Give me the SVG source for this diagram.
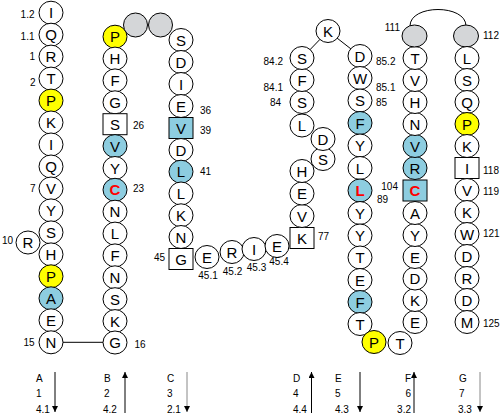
<svg xmlns="http://www.w3.org/2000/svg" width="500" height="420" viewBox="0 0 500 420">
<defs>
<style>
.o{fill:#fff;stroke:#000;stroke-width:1}
.y{fill:#ffff00;stroke:#000;stroke-width:1}
.b{fill:#8dcde0;stroke:#000;stroke-width:1}
.g{fill:#d4d6d8;stroke:#000;stroke-width:1}
text{font-family:"Liberation Sans",Arial,sans-serif}
.t{font-size:15px;text-anchor:middle;fill:#000}
.r{fill:#ff0000;font-weight:bold}
.n{font-size:10px;fill:#000}
.e{text-anchor:end}
.m{text-anchor:middle}
.ln{stroke:#000;stroke-width:1;fill:none}
.ab{stroke:#000;stroke-width:1;marker-end:url(#ah)}
.ag{stroke:#888;stroke-width:1;marker-end:url(#ah)}
</style>
<marker id="ah" markerUnits="userSpaceOnUse" markerWidth="7" markerHeight="7" refX="6" refY="3" orient="auto"><path d="M0,0 L6,3 L0,6 Z" fill="#000"/></marker>
</defs>
<rect width="500" height="420" fill="#fff"/>
<g id="connectors">
<line class="ln" x1="63" y1="342.3" x2="103" y2="342.3"/>
<line class="ln" x1="328" y1="31" x2="302" y2="58"/>
<line class="ln" x1="328" y1="31" x2="360" y2="56"/>
<path class="ln" d="M410,26 C410,4 466,4 466,26"/>
</g>
<g id="strandA">
<g id="A1"><ellipse class="o" cx="51" cy="12.7" rx="12" ry="11.5"/><text class="t" x="51" y="18.2">I</text></g>
<g id="A2"><ellipse class="o" cx="51" cy="34.7" rx="12" ry="11.5"/><text class="t" x="51" y="40.2">Q</text></g>
<g id="A3"><ellipse class="o" cx="51" cy="56.6" rx="12" ry="11.5"/><text class="t" x="51" y="62.1">R</text></g>
<g id="A4"><ellipse class="o" cx="51" cy="78.6" rx="12" ry="11.5"/><text class="t" x="51" y="84.1">T</text></g>
<g id="A5"><ellipse class="y" cx="51" cy="100.6" rx="12" ry="11.5"/><text class="t" x="51" y="106.1">P</text></g>
<g id="A6"><ellipse class="o" cx="51" cy="122.5" rx="12" ry="11.5"/><text class="t" x="51" y="128">K</text></g>
<g id="A7"><ellipse class="o" cx="51" cy="144.5" rx="12" ry="11.5"/><text class="t" x="51" y="150">I</text></g>
<g id="A8"><ellipse class="o" cx="51" cy="166.5" rx="12" ry="11.5"/><text class="t" x="51" y="172">Q</text></g>
<g id="A9"><ellipse class="o" cx="51" cy="188.5" rx="12" ry="11.5"/><text class="t" x="51" y="194">V</text></g>
<g id="A10"><ellipse class="o" cx="51" cy="210.4" rx="12" ry="11.5"/><text class="t" x="51" y="215.9">Y</text></g>
<g id="A11"><ellipse class="o" cx="51" cy="232.4" rx="12" ry="11.5"/><text class="t" x="51" y="237.9">S</text></g>
<g id="A12"><ellipse class="o" cx="51" cy="254.4" rx="12" ry="11.5"/><text class="t" x="51" y="259.9">H</text></g>
<g id="A13"><ellipse class="y" cx="51" cy="276.3" rx="12" ry="11.5"/><text class="t" x="51" y="281.8">P</text></g>
<g id="A14"><ellipse class="b" cx="51" cy="298.3" rx="12" ry="11.5"/><text class="t" x="51" y="303.8">A</text></g>
<g id="A15"><ellipse class="o" cx="51" cy="320.3" rx="12" ry="11.5"/><text class="t" x="51" y="325.8">E</text></g>
<g id="A16"><ellipse class="o" cx="51" cy="342.3" rx="12" ry="11.5"/><text class="t" x="51" y="347.8">N</text></g>
<g id="A10R"><ellipse class="o" cx="28" cy="242.5" rx="12" ry="11.5"/><text class="t" x="28" y="248">R</text></g>
</g>
<g id="strandB">
<g id="B1"><ellipse class="y" cx="115" cy="36.7" rx="12" ry="11.5"/><text class="t" x="115" y="42.2">P</text></g>
<g id="B2"><ellipse class="o" cx="115" cy="58.6" rx="12" ry="11.5"/><text class="t" x="115" y="64.1">H</text></g>
<g id="B3"><ellipse class="o" cx="115" cy="80.4" rx="12" ry="11.5"/><text class="t" x="115" y="85.9">F</text></g>
<g id="B4"><ellipse class="o" cx="115" cy="102.3" rx="12" ry="11.5"/><text class="t" x="115" y="107.8">G</text></g>
<g id="B5"><rect class="o" x="103" y="113.7" width="24" height="21"/><text class="t" x="115" y="129.7">S</text></g>
<g id="B6"><ellipse class="b" cx="115" cy="146.1" rx="12" ry="11.5"/><text class="t" x="115" y="151.6">V</text></g>
<g id="B7"><ellipse class="o" cx="115" cy="168" rx="12" ry="11.5"/><text class="t" x="115" y="173.5">Y</text></g>
<g id="B8"><ellipse class="b" cx="115" cy="189.8" rx="12" ry="11.5"/><text class="t r" x="115" y="195.3">C</text></g>
<g id="B9"><ellipse class="o" cx="115" cy="211.7" rx="12" ry="11.5"/><text class="t" x="115" y="217.2">N</text></g>
<g id="B10"><ellipse class="o" cx="115" cy="233.6" rx="12" ry="11.5"/><text class="t" x="115" y="239.1">L</text></g>
<g id="B11"><ellipse class="o" cx="115" cy="255.4" rx="12" ry="11.5"/><text class="t" x="115" y="260.9">F</text></g>
<g id="B12"><ellipse class="o" cx="115" cy="277.3" rx="12" ry="11.5"/><text class="t" x="115" y="282.8">N</text></g>
<g id="B13"><ellipse class="o" cx="115" cy="299.2" rx="12" ry="11.5"/><text class="t" x="115" y="304.7">S</text></g>
<g id="B14"><ellipse class="o" cx="115" cy="321.1" rx="12" ry="11.5"/><text class="t" x="115" y="326.6">K</text></g>
<g id="B15"><ellipse class="o" cx="115" cy="342.5" rx="12" ry="11.5"/><text class="t" x="115" y="348">G</text></g>
</g>
<g id="loopBC">
<g id="G1"><ellipse class="g" cx="135.5" cy="25" rx="12" ry="12"/></g>
<g id="G2"><ellipse class="g" cx="160.5" cy="25" rx="12" ry="12"/></g>
</g>
<g id="strandC">
<g id="C1"><ellipse class="o" cx="181" cy="40" rx="12" ry="11.5"/><text class="t" x="181" y="45.5">S</text></g>
<g id="C2"><ellipse class="o" cx="181" cy="62" rx="12" ry="11.5"/><text class="t" x="181" y="67.5">D</text></g>
<g id="C3"><ellipse class="o" cx="181" cy="84" rx="12" ry="11.5"/><text class="t" x="181" y="89.5">I</text></g>
<g id="C4"><ellipse class="o" cx="181" cy="106" rx="12" ry="11.5"/><text class="t" x="181" y="111.5">E</text></g>
<g id="C5"><rect class="b" x="169" y="117.5" width="24" height="21"/><text class="t" x="181" y="133.5">V</text></g>
<g id="C6"><ellipse class="o" cx="181" cy="150" rx="12" ry="11.5"/><text class="t" x="181" y="155.5">D</text></g>
<g id="C7"><ellipse class="b" cx="181" cy="171.7" rx="12" ry="11.5"/><text class="t" x="181" y="177.2">L</text></g>
<g id="C8"><ellipse class="o" cx="181" cy="193.5" rx="12" ry="11.5"/><text class="t" x="181" y="199">L</text></g>
<g id="C9"><ellipse class="o" cx="181" cy="215.3" rx="12" ry="11.5"/><text class="t" x="181" y="220.8">K</text></g>
<g id="C10"><ellipse class="o" cx="181" cy="237" rx="12" ry="11.5"/><text class="t" x="181" y="242.5">N</text></g>
<g id="C11"><rect class="o" x="169" y="248.5" width="24" height="21"/><text class="t" x="181" y="264.5">G</text></g>
</g>
<g id="loopCD">
<g id="CD1"><ellipse class="o" cx="207" cy="257" rx="12" ry="11.5"/><text class="t" x="207" y="262.5">E</text></g>
<g id="CD2"><ellipse class="o" cx="232" cy="252" rx="12" ry="11.5"/><text class="t" x="232" y="257.5">R</text></g>
<g id="CD3"><ellipse class="o" cx="254" cy="249" rx="12" ry="11.5"/><text class="t" x="254" y="254.5">I</text></g>
<g id="CD4"><ellipse class="o" cx="277" cy="246" rx="12" ry="11.5"/><text class="t" x="277" y="251.5">E</text></g>
</g>
<g id="strandD">
<g id="D1"><rect class="o" x="290" y="227.5" width="24" height="21"/><text class="t" x="302" y="243.5">K</text></g>
<g id="D2"><ellipse class="o" cx="302" cy="216" rx="12" ry="11.5"/><text class="t" x="302" y="221.5">V</text></g>
<g id="D3"><ellipse class="o" cx="302" cy="193.5" rx="12" ry="11.5"/><text class="t" x="302" y="199">E</text></g>
<g id="D4"><ellipse class="o" cx="302" cy="171" rx="12" ry="11.5"/><text class="t" x="302" y="176.5">H</text></g>
<g id="D5"><ellipse class="o" cx="323" cy="159" rx="12" ry="11.5"/><text class="t" x="323" y="164.5">S</text></g>
<g id="D6"><ellipse class="o" cx="323" cy="139" rx="12" ry="11.5"/><text class="t" x="323" y="144.5">D</text></g>
<g id="D7"><ellipse class="o" cx="302" cy="125.5" rx="12" ry="11.5"/><text class="t" x="302" y="131">L</text></g>
<g id="D8"><ellipse class="o" cx="302" cy="102" rx="12" ry="11.5"/><text class="t" x="302" y="107.5">S</text></g>
<g id="D9"><ellipse class="o" cx="302" cy="80" rx="12" ry="11.5"/><text class="t" x="302" y="85.5">F</text></g>
<g id="D10"><ellipse class="o" cx="302" cy="58" rx="12" ry="11.5"/><text class="t" x="302" y="63.5">S</text></g>
</g>
<g id="loopDE">
<g id="DE1"><ellipse class="o" cx="328" cy="31" rx="12" ry="11.5"/><text class="t" x="328" y="36.5">K</text></g>
</g>
<g id="strandE">
<g id="E1"><ellipse class="o" cx="360" cy="56" rx="12" ry="11.5"/><text class="t" x="360" y="61.5">D</text></g>
<g id="E2"><ellipse class="o" cx="360" cy="78" rx="12" ry="11.5"/><text class="t" x="360" y="83.5">W</text></g>
<g id="E3"><ellipse class="o" cx="360" cy="100.5" rx="12" ry="11.5"/><text class="t" x="360" y="106">S</text></g>
<g id="E4"><ellipse class="b" cx="360" cy="123" rx="12" ry="11.5"/><text class="t" x="360" y="128.5">F</text></g>
<g id="E5"><ellipse class="o" cx="360" cy="145.5" rx="12" ry="11.5"/><text class="t" x="360" y="151">Y</text></g>
<g id="E6"><ellipse class="o" cx="360" cy="168" rx="12" ry="11.5"/><text class="t" x="360" y="173.5">L</text></g>
<g id="E7"><ellipse class="b" cx="360" cy="190.5" rx="12" ry="11.5"/><text class="t r" x="360" y="196">L</text></g>
<g id="E8"><ellipse class="o" cx="360" cy="213" rx="12" ry="11.5"/><text class="t" x="360" y="218.5">Y</text></g>
<g id="E9"><ellipse class="o" cx="360" cy="235.5" rx="12" ry="11.5"/><text class="t" x="360" y="241">Y</text></g>
<g id="E10"><ellipse class="o" cx="360" cy="257.5" rx="12" ry="11.5"/><text class="t" x="360" y="263">T</text></g>
<g id="E11"><ellipse class="o" cx="360" cy="280" rx="12" ry="11.5"/><text class="t" x="360" y="285.5">E</text></g>
<g id="E12"><ellipse class="b" cx="360" cy="302" rx="12" ry="11.5"/><text class="t" x="360" y="307.5">F</text></g>
<g id="E13"><ellipse class="o" cx="360" cy="324" rx="12" ry="11.5"/><text class="t" x="360" y="329.5">T</text></g>
</g>
<g id="loopEF">
<g id="EF1"><ellipse class="y" cx="374" cy="342" rx="12" ry="11.5"/><text class="t" x="374" y="347.5">P</text></g>
<g id="EF2"><ellipse class="o" cx="400" cy="343" rx="12" ry="11.5"/><text class="t" x="400" y="348.5">T</text></g>
</g>
<g id="strandF">
<g id="F1"><ellipse class="o" cx="415" cy="322" rx="12" ry="11.5"/><text class="t" x="415" y="327.5">E</text></g>
<g id="F2"><ellipse class="o" cx="415" cy="300" rx="12" ry="11.5"/><text class="t" x="415" y="305.5">K</text></g>
<g id="F3"><ellipse class="o" cx="415" cy="278.5" rx="12" ry="11.5"/><text class="t" x="415" y="284">D</text></g>
<g id="F4"><ellipse class="o" cx="415" cy="257" rx="12" ry="11.5"/><text class="t" x="415" y="262.5">E</text></g>
<g id="F5"><ellipse class="o" cx="415" cy="235" rx="12" ry="11.5"/><text class="t" x="415" y="240.5">Y</text></g>
<g id="F6"><ellipse class="o" cx="415" cy="213" rx="12" ry="11.5"/><text class="t" x="415" y="218.5">A</text></g>
<g id="F7"><rect class="b" x="403" y="180" width="24" height="21"/><text class="t r" x="415" y="196">C</text></g>
<g id="F8"><ellipse class="b" cx="415" cy="168" rx="12" ry="11.5"/><text class="t" x="415" y="173.5">R</text></g>
<g id="F9"><ellipse class="b" cx="415" cy="146" rx="12" ry="11.5"/><text class="t" x="415" y="151.5">V</text></g>
<g id="F10"><ellipse class="o" cx="415" cy="124" rx="12" ry="11.5"/><text class="t" x="415" y="129.5">N</text></g>
<g id="F11"><ellipse class="o" cx="415" cy="102" rx="12" ry="11.5"/><text class="t" x="415" y="107.5">H</text></g>
<g id="F12"><ellipse class="o" cx="415" cy="80" rx="12" ry="11.5"/><text class="t" x="415" y="85.5">V</text></g>
<g id="F13"><ellipse class="o" cx="415" cy="58" rx="12" ry="11.5"/><text class="t" x="415" y="63.5">T</text></g>
<g id="F14"><ellipse class="g" cx="414.5" cy="36" rx="12.5" ry="11"/></g>
</g>
<g id="strandG">
<g id="G14"><ellipse class="g" cx="466" cy="36" rx="12.5" ry="11"/></g>
<g id="G13"><ellipse class="o" cx="467" cy="58" rx="12" ry="11.5"/><text class="t" x="467" y="63.5">L</text></g>
<g id="G12"><ellipse class="o" cx="467" cy="80" rx="12" ry="11.5"/><text class="t" x="467" y="85.5">S</text></g>
<g id="G11"><ellipse class="o" cx="467" cy="102" rx="12" ry="11.5"/><text class="t" x="467" y="107.5">Q</text></g>
<g id="G10"><ellipse class="y" cx="467" cy="124" rx="12" ry="11.5"/><text class="t" x="467" y="129.5">P</text></g>
<g id="G9"><ellipse class="o" cx="467" cy="146" rx="12" ry="11.5"/><text class="t" x="467" y="151.5">K</text></g>
<g id="G8"><rect class="o" x="455" y="157.5" width="24" height="21"/><text class="t" x="467" y="173.5">I</text></g>
<g id="G7"><ellipse class="o" cx="467" cy="190" rx="12" ry="11.5"/><text class="t" x="467" y="195.5">V</text></g>
<g id="G6"><ellipse class="o" cx="467" cy="212" rx="12" ry="11.5"/><text class="t" x="467" y="217.5">K</text></g>
<g id="G5"><ellipse class="o" cx="467" cy="234" rx="12" ry="11.5"/><text class="t" x="467" y="239.5">W</text></g>
<g id="G4"><ellipse class="o" cx="467" cy="256" rx="12" ry="11.5"/><text class="t" x="467" y="261.5">D</text></g>
<g id="G3"><ellipse class="o" cx="467" cy="278" rx="12" ry="11.5"/><text class="t" x="467" y="283.5">R</text></g>
<g id="G2r"><ellipse class="o" cx="467" cy="300" rx="12" ry="11.5"/><text class="t" x="467" y="305.5">D</text></g>
<g id="G1r"><ellipse class="o" cx="467" cy="322" rx="12" ry="11.5"/><text class="t" x="467" y="327.5">M</text></g>
</g>
<g id="numbers">
<text class="n e" x="34.5" y="17.5">1.2</text>
<text class="n e" x="34.5" y="39.5">1.1</text>
<text class="n e" x="35" y="59.5">1</text>
<text class="n e" x="35.5" y="86">2</text>
<text class="n e" x="35.5" y="192">7</text>
<text class="n" x="2" y="244">10</text>
<text class="n e" x="34.5" y="345.5">15</text>
<text class="n" x="133" y="128.5">26</text>
<text class="n" x="133" y="192">23</text>
<text class="n" x="134.5" y="347.5">16</text>
<text class="n" x="200" y="113.5">36</text>
<text class="n" x="200" y="133.5">39</text>
<text class="n" x="200" y="175">41</text>
<text class="n e" x="165" y="261">45</text>
<text class="n m" x="208" y="278.5">45.1</text>
<text class="n m" x="232.5" y="275">45.2</text>
<text class="n m" x="256.5" y="271">45.3</text>
<text class="n m" x="279" y="265">45.4</text>
<text class="n" x="318" y="240">77</text>
<text class="n e" x="283" y="65">84.2</text>
<text class="n e" x="283" y="90.5">84.1</text>
<text class="n e" x="281" y="106">84</text>
<text class="n" x="376" y="65">85.2</text>
<text class="n" x="376" y="91">85.1</text>
<text class="n" x="376" y="106">85</text>
<text class="n" x="377" y="203">89</text>
<text class="n e" x="398" y="189.5">104</text>
<text class="n e" x="400" y="31">111</text>
<text class="n" x="483" y="39">112</text>
<text class="n" x="483" y="173.5">118</text>
<text class="n" x="483" y="195">119</text>
<text class="n" x="483" y="237">121</text>
<text class="n" x="483" y="327">125</text>
</g>
<g id="legend">
<text class="n" x="36" y="381.5">A</text><text class="n" x="36" y="396.5">1</text><text class="n" x="36" y="412.5">4.1</text>
<line class="ab" x1="55" y1="372" x2="55" y2="412"/>
<text class="n" x="104" y="381.5">B</text><text class="n" x="104" y="396.5">2</text><text class="n" x="103" y="412.5">4.2</text>
<line class="ab" x1="125" y1="413" x2="125" y2="372"/>
<text class="n" x="167" y="381.5">C</text><text class="n" x="167" y="396.5">3</text><text class="n" x="167" y="412.5">2.1</text>
<line class="ag" x1="187" y1="372" x2="187" y2="412"/>
<text class="n" x="293" y="381.5">D</text><text class="n" x="293" y="396.5">4</text><text class="n" x="293" y="412.5">4.4</text>
<line class="ab" x1="311.5" y1="413" x2="311.5" y2="372"/>
<text class="n" x="335" y="381.5">E</text><text class="n" x="335" y="396.5">5</text><text class="n" x="335" y="412.5">4.3</text>
<line class="ab" x1="360" y1="372" x2="360" y2="412"/>
<text class="n e" x="411" y="381.5">F</text><text class="n e" x="411" y="396.5">6</text><text class="n e" x="411" y="412.5">3.2</text>
<line class="ab" x1="414" y1="413" x2="414" y2="372"/>
<text class="n" x="459" y="381.5">G</text><text class="n" x="459" y="396.5">7</text><text class="n" x="458" y="412.5">3.3</text>
<line class="ag" x1="480" y1="372" x2="480" y2="412"/>
</g>
</svg>
